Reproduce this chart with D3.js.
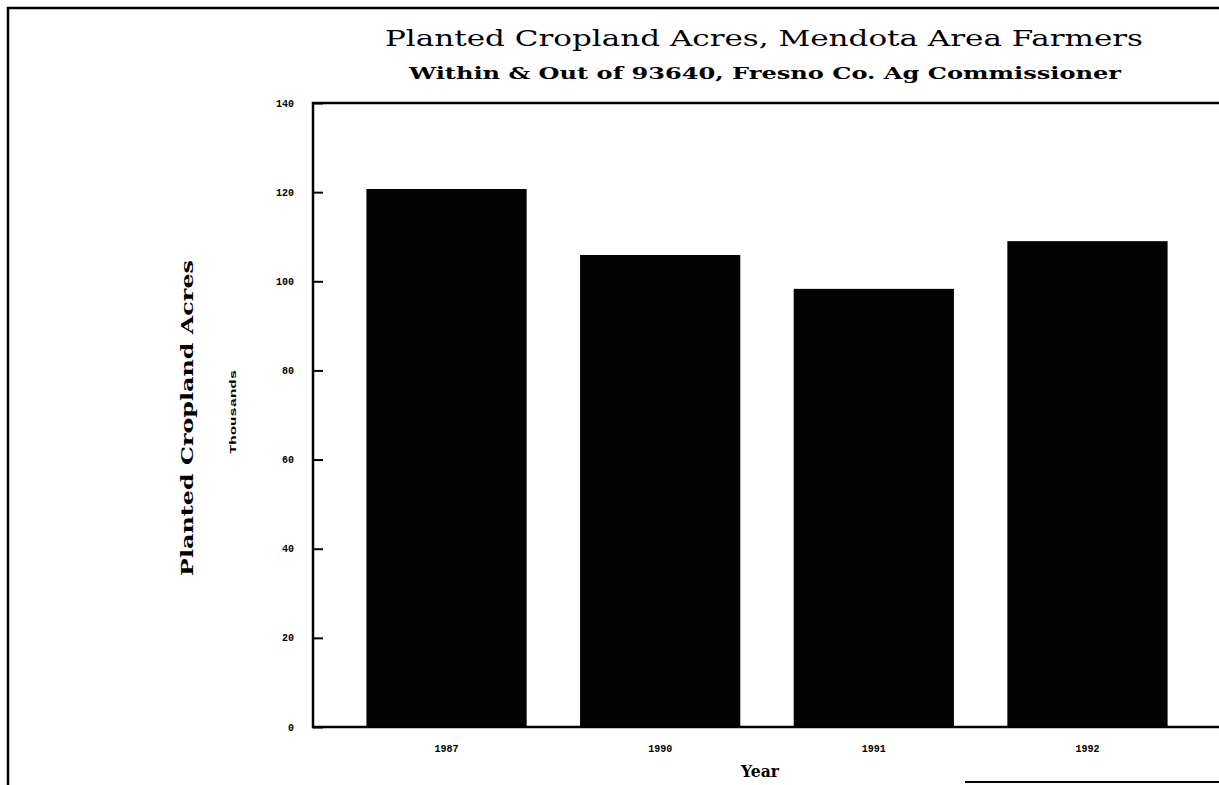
<!DOCTYPE html>
<html>
<head>
<meta charset="utf-8">
<script src="https://cdn.jsdelivr.net/npm/d3@7"></script>
<style>
  body { margin: 0; background: #fff; }
  svg { display: block; }
  text { font-family: "Liberation Mono", "DejaVu Sans Mono", monospace; fill: #000; }
  .serif { font-family: "DejaVu Serif", "Liberation Serif", serif; }
</style>
</head>
<body>
<svg id="chart" width="1219" height="785"></svg>
<script>
const years = ["1987", "1990", "1991", "1992"];
const acres = [120.7, 105.9, 98.3, 109.0];   // thousands
const yTicks = [0, 20, 40, 60, 80, 100, 120, 140];

const svg = d3.select("#chart");
const margin = { left: 313, top: 103, bottom: 727 };

const x = d3.scaleBand()
  .domain(years)
  .range([margin.left, 1221])
  .paddingInner(0.25)
  .paddingOuter(0.25);

const y = d3.scaleLinear()
  .domain([0, 140])
  .range([margin.bottom, margin.top]);

// outer page frame (scanned sheet)
svg.append("path")
  .attr("d", "M8,785 L8,8 L1219,8")
  .attr("fill", "none").attr("stroke", "#000").attr("stroke-width", 2.5);
svg.append("line")
  .attr("x1", 965).attr("x2", 1219).attr("y1", 782).attr("y2", 782)
  .attr("stroke", "#000").attr("stroke-width", 2);

// bars
svg.append("g")
  .selectAll("rect")
  .data(years.map((yr, i) => ({ yr, v: acres[i] })))
  .join("rect")
  .attr("x", d => x(d.yr))
  .attr("y", d => y(d.v))
  .attr("width", x.bandwidth())
  .attr("height", d => y(0) - y(d.v))
  .attr("fill", "#030303");

// plot frame: top line, left axis, bottom axis
svg.append("path")
  .attr("d", `M1219,${margin.top} L${margin.left},${margin.top} L${margin.left},${margin.bottom} L1219,${margin.bottom}`)
  .attr("fill", "none").attr("stroke", "#000").attr("stroke-width", 2.5);

// y axis (ticks pointing inward)
const yAxis = d3.axisRight(y).tickValues(yTicks).tickSize(10).tickFormat("");
svg.append("g")
  .attr("transform", `translate(${margin.left},0)`)
  .call(yAxis)
  .call(g => g.select(".domain").remove())
  .call(g => g.selectAll(".tick line").attr("stroke-width", 2));

svg.append("g")
  .selectAll("text")
  .data(yTicks)
  .join("text")
  .attr("x", 294)
  .attr("y", d => y(d) + 3.5)
  .attr("text-anchor", "end")
  .style("font-size", "10px")
  .style("font-weight", "bold")
  .text(d => d);

// x tick labels
svg.append("g")
  .selectAll("text")
  .data(years)
  .join("text")
  .attr("x", d => x(d) + x.bandwidth() / 2)
  .attr("y", 752)
  .attr("text-anchor", "middle")
  .style("font-size", "10px")
  .style("font-weight", "bold")
  .text(d => d);

// titles
svg.append("text")
  .attr("class", "serif")
  .attr("x", 764).attr("y", 46)
  .attr("text-anchor", "middle")
  .attr("textLength", 758).attr("lengthAdjust", "spacingAndGlyphs")
  .style("font-size", "23px")
  .text("Planted Cropland Acres, Mendota Area Farmers");

svg.append("text")
  .attr("class", "serif")
  .attr("x", 765).attr("y", 79)
  .attr("text-anchor", "middle")
  .attr("textLength", 712).attr("lengthAdjust", "spacingAndGlyphs")
  .style("font-size", "16px")
  .style("font-weight", "bold")
  .text("Within & Out of 93640, Fresno Co. Ag Commissioner");

svg.append("text")
  .attr("class", "serif")
  .attr("x", 760).attr("y", 777)
  .attr("text-anchor", "middle")
  .attr("textLength", 38).attr("lengthAdjust", "spacingAndGlyphs")
  .style("font-size", "16px")
  .style("font-weight", "bold")
  .text("Year");

svg.append("text")
  .attr("class", "serif")
  .attr("transform", "translate(193,418) rotate(-90)")
  .attr("text-anchor", "middle")
  .attr("textLength", 316).attr("lengthAdjust", "spacingAndGlyphs")
  .style("font-size", "17px")
  .style("font-weight", "bold")
  .text("Planted Cropland Acres");

svg.append("text")
  .attr("transform", "translate(236,412) rotate(-90)")
  .attr("text-anchor", "middle")
  .attr("textLength", 84).attr("lengthAdjust", "spacingAndGlyphs")
  .style("font-size", "9px")
  .style("font-weight", "bold")
  .text("Thousands");
</script>
</body>
</html>
